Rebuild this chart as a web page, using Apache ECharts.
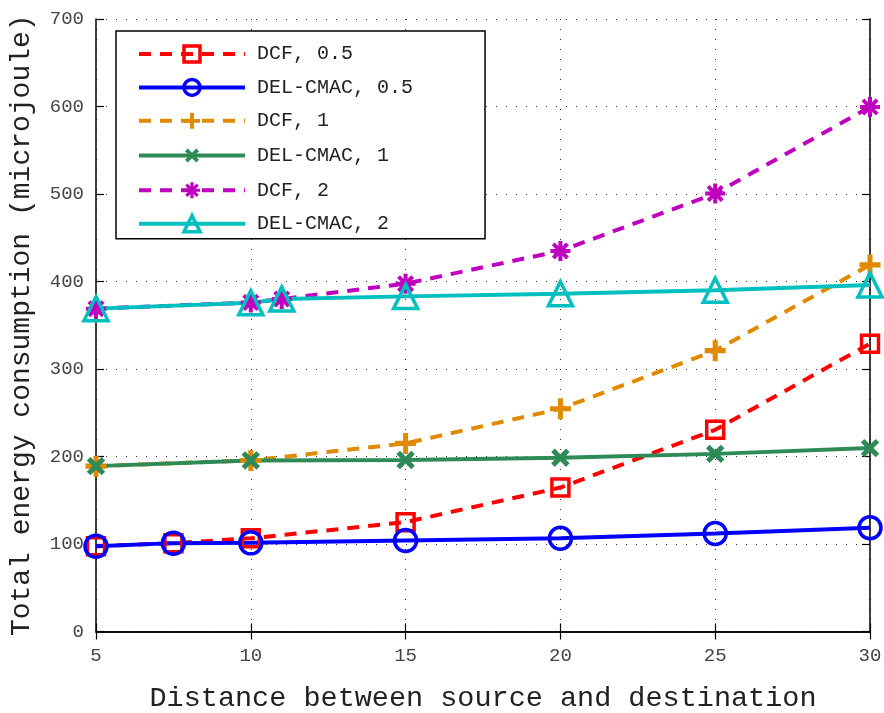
<!DOCTYPE html>
<html>
<head>
<meta charset="utf-8">
<script src="https://cdn.jsdelivr.net/npm/echarts@6/dist/echarts.min.js"></script>
<style>html,body{margin:0;padding:0;background:#fff;}#c{width:884px;height:713px;}</style>
</head>
<body>
<div id="c"></div>
<script>
// ---- data ----
const seriesNames = ['DCF, 0.5', 'DEL-CMAC, 0.5', 'DCF, 1', 'DEL-CMAC, 1', 'DCF, 2', 'DEL-CMAC, 2'];
const x05 = [5, 7.5, 10, 15, 20, 25, 30];
const x1  = [5, 10, 15, 20, 25, 30];
const x2  = [5, 10, 11, 15, 20, 25, 30];
const dcf05 = [97.5, 101, 106.5, 125, 164.5, 230.5, 329];
const del05 = [97.5, 101, 101.3, 104, 106.5, 112, 118.5];
const dcf1  = [189, 195.5, 215, 254.5, 321, 419];
const del1  = [189, 195.5, 196, 198.6, 203, 209.6];
const dcf2  = [369, 376, 380, 397.5, 435, 500.5, 599.5];
const del2  = [369, 375.7, 380, 383, 386, 390, 396];
const xTicks = [5, 10, 15, 20, 25, 30];
const yTicks = [0, 100, 200, 300, 400, 500, 600, 700];

const pair = (xs, ys) => xs.map((x, i) => [x, ys[i]]);

const FONT = '"Liberation Mono", "DejaVu Sans Mono", monospace';
const PLUS = 'path://M3.8,0H6.2V3.8H10V6.2H6.2V10H3.8V6.2H0V3.8H3.8Z';
const STAR = 'path://M0,8H20V12H0Z M8,0H12V20H8Z M4.3,1.5L18.5,15.7L15.7,18.5L1.5,4.3Z M15.7,1.5L18.5,4.3L4.3,18.5L1.5,15.7Z M16,10L14.2,14.2L10,16L5.8,14.2L4,10L5.8,5.8L10,4L14.2,5.8Z';

function mk(name, data, color, dashed, symbol, size, hollow, rotate) {
  return {
    name: name, type: 'line', data: data,
    symbol: symbol, symbolSize: size, symbolRotate: rotate || 0,
    showAllSymbol: true,
    lineStyle: { color: color, width: 4, type: dashed ? [12, 9] : 'solid' },
    itemStyle: hollow ? { color: 'rgba(0,0,0,0)', borderColor: color, borderWidth: 3.5 }
                      : { color: color, borderWidth: 0 },
    emphasis: { disabled: true },
    animation: false, z: 2
  };
}

const chart = echarts.init(document.getElementById('c'), null, { renderer: 'canvas' });
const gridDot = { show: true, lineStyle: { color: '#333', width: 1, type: [1, 9] } };
chart.setOption({
  backgroundColor: '#fff',
  animation: false,
  grid: { left: 96, right: 14, top: 19, bottom: 81.5, containLabel: false, outerBoundsMode: 'none' },
  legend: {
    left: 116, top: 31, orient: 'vertical',
    backgroundColor: '#fff', borderColor: '#000', borderWidth: 1.5,
    padding: [13, 72, 5, 21],
    itemWidth: 106, itemHeight: 20, itemGap: 13.4,
    lineStyle: { width: 4 },
    itemStyle: { borderWidth: 3.5 },
    textStyle: { fontFamily: FONT, fontSize: 20, color: '#222', padding: [0, 0, 0, 7] },
    data: seriesNames, selectedMode: false
  },
  xAxis: [{
    type: 'value', min: 5, max: 30, interval: 5, position: 'bottom',
    name: 'Distance between source and destination', nameLocation: 'middle', nameGap: 52,
    nameTextStyle: { fontFamily: FONT, fontSize: 28.5, color: '#222' },
    axisLine: { show: true, lineStyle: { color: '#000', width: 1.5 } },
    axisTick: { show: true, inside: true, length: 8, lineStyle: { color: '#000', width: 1.2 } },
    axisLabel: { fontFamily: FONT, fontSize: 19, color: '#444', margin: 15,
      formatter: v => xTicks.includes(v) ? String(v) : '' },
    splitLine: gridDot
  }, {
    type: 'value', min: 5, max: 30, interval: 5, position: 'top',
    axisLine: { show: true, lineStyle: { color: '#000', width: 1.5 } },
    axisTick: { show: true, inside: true, length: 8, lineStyle: { color: '#000', width: 1.2 } },
    axisLabel: { show: false }, splitLine: { show: false }
  }],
  yAxis: [{
    type: 'value', min: 0, max: 700, interval: 100, position: 'left',
    name: 'Total energy consumption (microjoule)', nameLocation: 'middle', nameGap: 60,
    nameTextStyle: { fontFamily: FONT, fontSize: 28, color: '#222' },
    axisLine: { show: true, lineStyle: { color: '#000', width: 1.5 } },
    axisTick: { show: true, inside: true, length: 8, lineStyle: { color: '#000', width: 1.2 } },
    axisLabel: { fontFamily: FONT, fontSize: 19, color: '#444', margin: 12,
      formatter: v => yTicks.includes(v) ? String(v) : '' },
    splitLine: gridDot
  }, {
    type: 'value', min: 0, max: 700, interval: 100, position: 'right',
    axisLine: { show: true, lineStyle: { color: '#000', width: 1.5 } },
    axisTick: { show: true, inside: true, length: 8, lineStyle: { color: '#000', width: 1.2 } },
    axisLabel: { show: false }, splitLine: { show: false }
  }],
  series: [
    mk(seriesNames[0], pair(x05, dcf05), '#ff0000', true, 'rect', 17, true),
    mk(seriesNames[1], pair(x05, del05), '#0000ff', false, 'circle', 22, true),
    mk(seriesNames[2], pair(x1, dcf1), '#e08a00', true, PLUS, 21, false),
    mk(seriesNames[3], pair(x1, del1), '#2e8b57', false, PLUS, 21, false, 45),
    mk(seriesNames[4], pair(x2, dcf2), '#bf00bf', true, STAR, 20, false),
    mk(seriesNames[5], pair(x2, del2), '#00bfbf', false, 'triangle', 24, true)
  ]
});
</script>
</body>
</html>
